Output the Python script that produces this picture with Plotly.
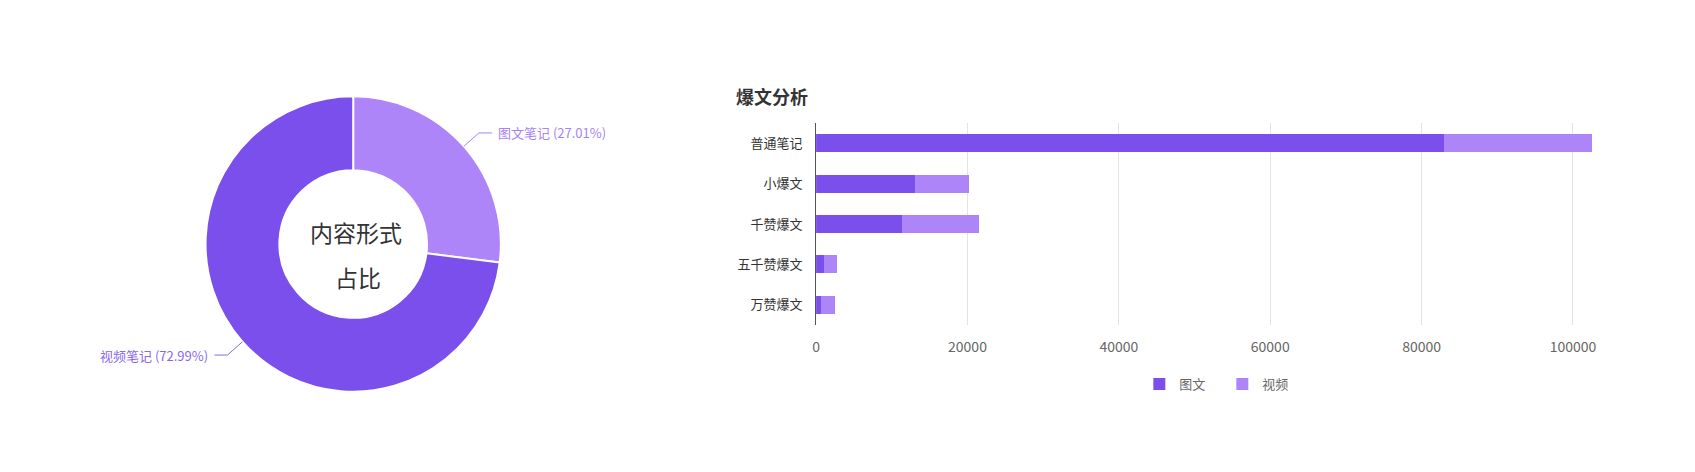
import math
import plotly.graph_objects as go

W, H = 1695, 472
OFF = 8  # page body margin

# donut data
pie_labels = ["图文笔记", "视频笔记"]
pie_values = [27.01, 72.99]
pie_colors = ["#AE84F9", "#7B4FEC"]
label_colors = ["#A783F4", "#8A68EA"]

# stacked bar data
categories = ["普通笔记", "小爆文", "千赞爆文", "五千赞爆文", "万赞爆文"]
tuwen = [83000, 13100, 11300, 1100, 620]
shipin = [19500, 7150, 10200, 1670, 1880]

FONT = "Noto Sans CJK SC"


def px(x):
    return (x - OFF) / W


def py(y):
    return 1 - (y - OFF) / H


# donut placement (pixels in the screenshot)
cx, cy, R = 350, 244, 148

fig = go.Figure()

fig.add_trace(go.Pie(
    labels=pie_labels, values=pie_values,
    hole=0.5, sort=False, direction="clockwise", rotation=0,
    marker=dict(colors=pie_colors, line=dict(color="white", width=2)),
    textinfo="none", showlegend=False,
    domain=dict(x=[px(cx - R), px(cx + R)], y=[py(cy + R), py(cy - R)]),
))

fig.add_trace(go.Bar(
    y=categories, x=tuwen, name="图文", orientation="h",
    marker=dict(color="#7B4FEC", line=dict(width=0)),
))
fig.add_trace(go.Bar(
    y=categories, x=shipin, name="视频", orientation="h",
    marker=dict(color="#AE84F9", line=dict(width=0)),
))

# leader lines + labels for the donut, placed from the slice angles
shapes = []
annotations = []
total = sum(pie_values)
acc = 0
for lab, v, col in zip(pie_labels, pie_values, label_colors):
    mid = (acc + v / 2) / total * 2 * math.pi
    acc += v
    sx, sy = math.sin(mid), -math.cos(mid)
    x0, y0 = cx + R * sx, cy + R * sy
    x1, y1 = cx + (R + 20) * sx, cy + (R + 20) * sy
    side = 1 if sx >= 0 else -1
    x2 = x1 + 13 * side
    shapes.append(dict(
        type="path", xref="paper", yref="paper",
        path=f"M {px(x0)},{py(y0)} L {px(x1)},{py(y1)} L {px(x2)},{py(y1)}",
        line=dict(color=col, width=1),
    ))
    annotations.append(dict(
        text=f"{lab} ({v:.2f}%)", xref="paper", yref="paper",
        x=px(x2 + 4 * side), y=py(y1), showarrow=False,
        xanchor="left" if side > 0 else "right", yanchor="middle",
        font=dict(family=FONT, size=13, color=col),
    ))

annotations += [
    dict(text="内容形式", xref="paper", yref="paper", x=px(353), y=py(232),
         xanchor="center", yanchor="middle", showarrow=False,
         font=dict(family=FONT, size=23, color="#333333")),
    dict(text="占比", xref="paper", yref="paper", x=px(355), y=py(277),
         xanchor="center", yanchor="middle", showarrow=False,
         font=dict(family=FONT, size=23, color="#333333")),
    dict(text="<b>爆文分析</b>", xref="paper", yref="paper", x=px(732), y=py(96),
         xanchor="left", yanchor="middle", showarrow=False,
         font=dict(family=FONT, size=18, color="#333333")),
]

fig.update_layout(
    width=W, height=H,
    margin=dict(l=0, r=0, t=0, b=0),
    paper_bgcolor="white", plot_bgcolor="white",
    font=dict(family=FONT, size=13, color="#666666"),
    barmode="stack", bargap=0.55,
    shapes=shapes, annotations=annotations,
    xaxis=dict(
        domain=[px(814), px(1603)], range=[0, 104000], dtick=20000,
        tickformat="d",
        showgrid=True, gridcolor="#E3E3E3", gridwidth=1, zeroline=False,
        showline=False, ticks="outside", ticklen=9, tickcolor="rgba(0,0,0,0)",
        tickfont=dict(family=FONT, size=14, color="#666666"),
        anchor="y",
    ),
    yaxis=dict(
        domain=[py(325), py(123)], autorange="reversed",
        showgrid=False, zeroline=False,
        showline=True, linecolor="#555555", linewidth=1,
        ticks="outside", ticklen=10, tickcolor="rgba(0,0,0,0)",
        tickfont=dict(family=FONT, size=13, color="#333333"),
        anchor="x",
    ),
    legend=dict(
        orientation="h", traceorder="normal",
        x=px(1138), y=py(384), xanchor="left", yanchor="middle",
        font=dict(family=FONT, size=13, color="#666666"),
        entrywidth=38, entrywidthmode="pixels",
        bgcolor="rgba(0,0,0,0)",
    ),
)

fig.write_html("out.html")
